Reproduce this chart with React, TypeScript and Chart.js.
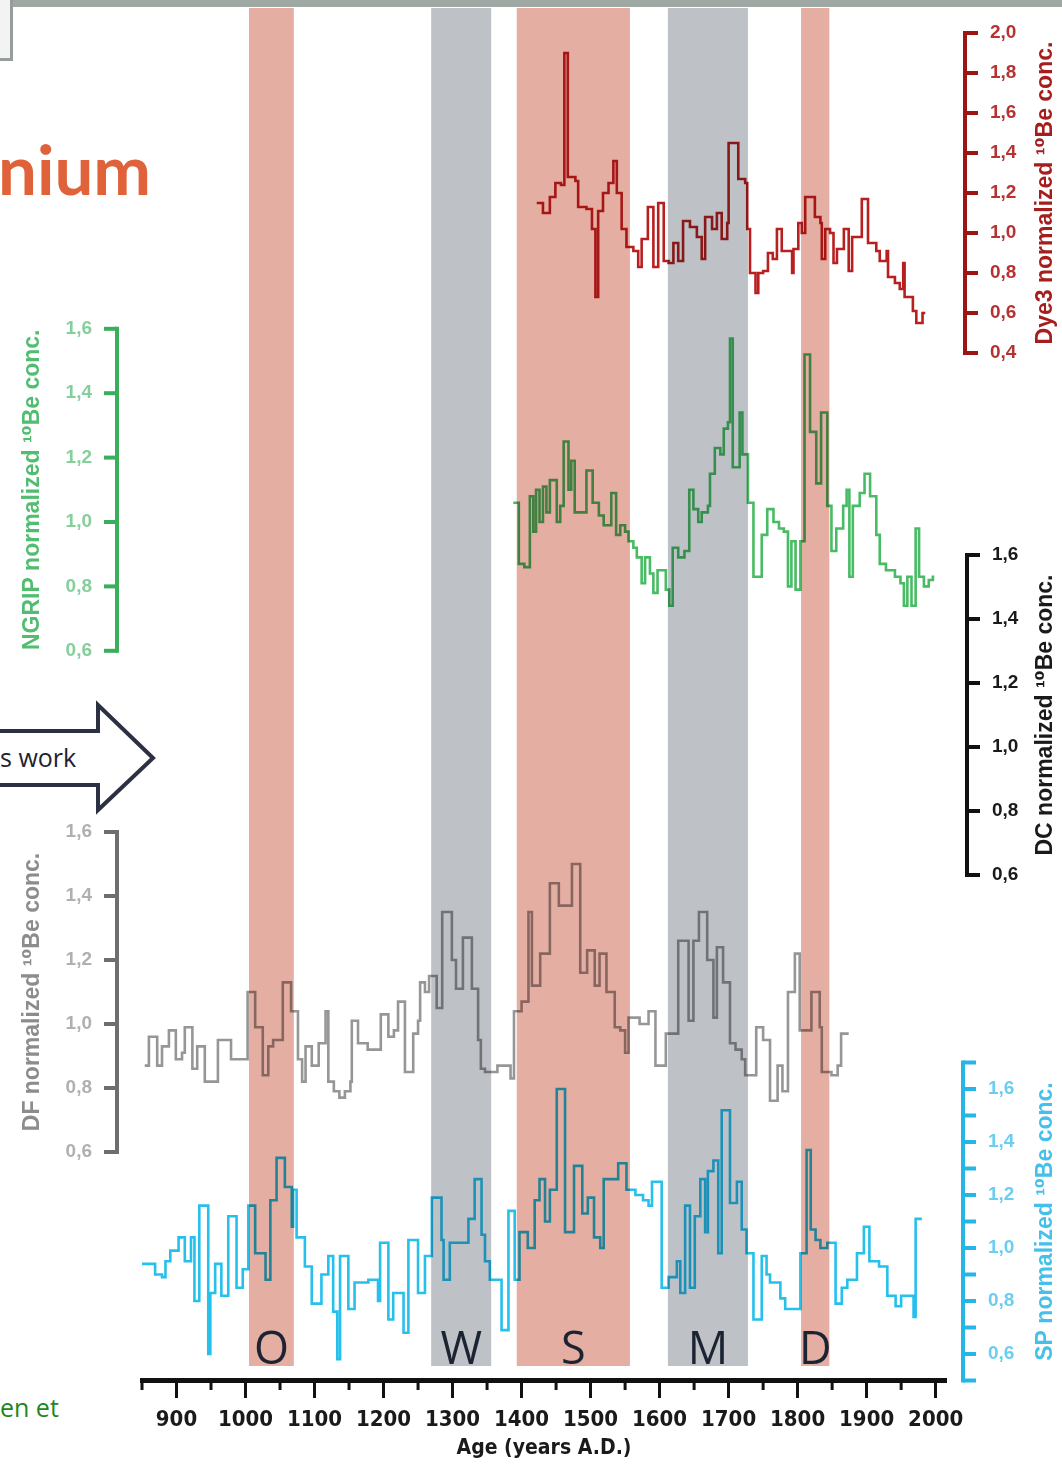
import React, { useEffect, useRef } from 'react';
import { Chart, registerables } from 'chart.js';

Chart.register(...registerables);

// ---------------- data ----------------
const X_TICKS = [900, 1000, 1100, 1200, 1300, 1400, 1500, 1600, 1700, 1800, 1900, 2000];
const X_MINOR_TICKS = [850, 950, 1050, 1150, 1250, 1350, 1450, 1550, 1650, 1750, 1850, 1950];

const BAND_LABELS = ['O', 'W', 'S', 'M', 'D'];
const BAND_FROM = [1005, 1269, 1393, 1612, 1805];
const BAND_TO = [1070, 1356, 1557, 1728, 1846];

const DYE3_YEARS = [
  1422, 1431, 1441, 1449, 1457, 1462, 1467, 1478, 1482, 1494,
  1502, 1507, 1511, 1518, 1526, 1533, 1538, 1545, 1552, 1562,
  1569, 1574, 1583, 1591, 1598, 1606, 1613, 1620, 1627, 1634,
  1644, 1654, 1661, 1666, 1676, 1683, 1690, 1698, 1700, 1714,
  1724, 1727, 1731, 1739, 1743, 1750, 1757, 1764, 1770, 1777,
  1784, 1792, 1794, 1801, 1806, 1811, 1825, 1833, 1835, 1840,
  1847, 1852, 1857, 1867, 1874, 1879, 1893, 1902, 1914, 1919,
  1929, 1931, 1941, 1948, 1953, 1955, 1967, 1972, 1981, 1985,
];
const DYE3_VALUES = [
  1.15, 1.10, 1.18, 1.25, 1.24, 1.90, 1.28, 1.26, 1.13, 1.12,
  1.02, 0.68, 1.11, 1.20, 1.25, 1.36, 1.20, 1.02, 0.93, 0.91,
  0.83, 0.97, 1.13, 0.83, 1.15, 0.86, 0.85, 0.95, 0.86, 1.06,
  1.03, 0.98, 0.87, 1.08, 1.02, 1.10, 0.97, 1.05, 1.45, 1.27,
  1.25, 1.02, 0.80, 0.70, 0.80, 0.81, 0.90, 0.87, 1.02, 0.91,
  0.91, 0.80, 0.92, 1.05, 1.00, 1.18, 1.08, 1.05, 0.87, 1.02,
  1.00, 0.85, 0.92, 1.02, 0.81, 0.98, 1.17, 0.95, 0.91, 0.86,
  0.91, 0.78, 0.75, 0.72, 0.85, 0.68, 0.61, 0.55, 0.60, 0.60,
];

const NGRIP_YEARS = [
  1388, 1396, 1404, 1412, 1417, 1421, 1426, 1431, 1436, 1441,
  1451, 1456, 1461, 1468, 1472, 1477, 1494, 1503, 1512, 1519,
  1530, 1537, 1543, 1550, 1555, 1562, 1567, 1574, 1579, 1586,
  1591, 1597, 1609, 1614, 1619, 1627, 1636, 1643, 1649, 1656,
  1661, 1670, 1673, 1680, 1688, 1693, 1699, 1702, 1706, 1716,
  1720, 1728, 1736, 1748, 1756, 1765, 1773, 1780, 1786, 1791,
  1797, 1804, 1810, 1818, 1827, 1834, 1843, 1849, 1856, 1866,
  1871, 1875, 1880, 1890, 1897, 1905, 1914, 1919, 1928, 1941,
  1949, 1954, 1959, 1965, 1971, 1976, 1983, 1990, 1996, 1998,
];
const NGRIP_VALUES = [
  1.06, 0.87, 0.86, 1.08, 0.97, 1.10, 1.00, 1.11, 1.03, 1.13,
  1.00, 1.05, 1.25, 1.10, 1.19, 1.03, 1.16, 1.06, 1.02, 0.99,
  1.09, 0.96, 0.99, 0.97, 0.94, 0.92, 0.89, 0.81, 0.89, 0.84,
  0.78, 0.85, 0.79, 0.74, 0.92, 0.89, 0.91, 1.10, 1.04, 1.00,
  1.03, 1.05, 1.15, 1.23, 1.21, 1.29, 1.31, 1.57, 1.17, 1.34,
  1.21, 1.06, 0.83, 0.96, 1.04, 1.00, 0.98, 0.97, 0.80, 0.94,
  0.79, 0.94, 1.52, 1.28, 1.12, 1.34, 1.05, 0.91, 0.98, 1.05,
  1.10, 0.83, 1.05, 1.09, 1.15, 1.08, 0.96, 0.87, 0.85, 0.83,
  0.81, 0.74, 0.83, 0.74, 0.98, 0.83, 0.80, 0.82, 0.83, 0.83,
];

const DF_YEARS = [
  854, 860, 872, 879, 889, 899, 908, 912, 923, 930,
  941, 960, 979, 1003, 1014, 1025, 1033, 1040, 1054, 1066,
  1076, 1082, 1087, 1096, 1106, 1116, 1120, 1128, 1136, 1144,
  1152, 1154, 1163, 1177, 1196, 1207, 1215, 1221, 1231, 1243,
  1250, 1253, 1260, 1266, 1277, 1285, 1299, 1305, 1315, 1328,
  1337, 1341, 1347, 1365, 1384, 1389, 1400, 1410, 1415, 1427,
  1441, 1454, 1473, 1485, 1495, 1506, 1513, 1523, 1535, 1543,
  1550, 1555, 1571, 1584, 1594, 1609, 1627, 1642, 1649, 1657,
  1669, 1678, 1683, 1692, 1702, 1710, 1719, 1724, 1740, 1750,
  1760, 1771, 1778, 1786, 1796, 1803, 1820, 1832, 1835, 1849,
  1858, 1863, 1874,
];
const DF_VALUES = [
  0.87, 0.96, 0.87, 0.93, 0.98, 0.89, 0.91, 0.99, 0.86, 0.93,
  0.82, 0.95, 0.89, 1.10, 0.99, 0.84, 0.93, 0.95, 1.13, 1.04,
  0.89, 0.82, 0.93, 0.87, 0.94, 1.04, 0.82, 0.79, 0.77, 0.79,
  0.82, 1.01, 0.94, 0.92, 1.03, 0.96, 0.98, 1.07, 0.85, 0.97,
  1.01, 1.13, 1.10, 1.15, 1.05, 1.35, 1.20, 1.11, 1.27, 1.11,
  0.95, 0.86, 0.85, 0.87, 0.83, 1.04, 1.07, 1.35, 1.12, 1.22,
  1.44, 1.37, 1.50, 1.16, 1.23, 1.12, 1.22, 1.10, 0.99, 0.98,
  0.91, 1.02, 1.00, 1.04, 0.87, 0.97, 1.26, 1.01, 1.26, 1.35,
  1.20, 1.02, 1.24, 1.13, 0.94, 0.92, 0.89, 0.84, 0.99, 0.95,
  0.76, 0.87, 0.79, 1.10, 1.22, 0.98, 1.10, 0.99, 0.85, 0.84,
  0.87, 0.97, 0.97,
];

const SP_YEARS = [
  847, 869, 879, 884, 891, 903, 912, 921, 926, 933,
  946, 949, 956, 965, 975, 987, 996, 1004, 1014, 1029,
  1036, 1045, 1057, 1067, 1069, 1074, 1086, 1096, 1110, 1120,
  1127, 1133, 1137, 1149, 1158, 1178, 1192, 1195, 1207, 1214,
  1229, 1236, 1250, 1260, 1270, 1284, 1287, 1296, 1323, 1332,
  1342, 1347, 1354, 1371, 1381, 1390, 1397, 1409, 1419, 1426,
  1434, 1441, 1451, 1463, 1476, 1488, 1496, 1505, 1514, 1519,
  1540, 1552, 1565, 1576, 1584, 1589, 1603, 1613, 1625, 1630,
  1637, 1644, 1651, 1659, 1666, 1670, 1678, 1685, 1690, 1702,
  1712, 1719, 1726, 1736, 1748, 1755, 1760, 1775, 1782, 1804,
  1813, 1819, 1826, 1833, 1843, 1855, 1864, 1872, 1886, 1896,
  1904, 1918, 1930, 1942, 1950, 1968, 1971, 1980,
];
const SP_VALUES = [
  0.94, 0.90, 0.89, 0.95, 0.99, 1.04, 0.95, 1.04, 0.80, 1.16,
  0.60, 0.83, 0.94, 0.82, 1.12, 0.85, 0.92, 1.16, 0.98, 0.88,
  1.18, 1.34, 1.23, 1.08, 1.22, 1.04, 0.93, 0.79, 0.90, 0.97,
  0.76, 0.58, 0.97, 0.77, 0.87, 0.88, 0.80, 1.02, 0.73, 0.83,
  0.68, 1.03, 0.83, 0.97, 1.19, 1.03, 0.88, 1.02, 1.11, 1.26,
  1.05, 0.95, 0.88, 0.69, 1.14, 0.88, 1.06, 1.00, 1.18, 1.26,
  1.10, 1.22, 1.60, 1.06, 1.31, 1.13, 1.19, 1.04, 1.00, 1.26,
  1.32, 1.22, 1.20, 1.18, 1.16, 1.25, 0.85, 0.89, 0.95, 0.83,
  1.16, 0.85, 1.12, 1.26, 1.06, 1.29, 1.33, 0.98, 1.52, 1.17,
  1.25, 1.07, 0.98, 0.73, 0.97, 0.90, 0.87, 0.81, 0.77, 0.98,
  1.37, 1.07, 1.03, 1.00, 1.02, 0.79, 0.85, 0.88, 0.98, 1.08,
  0.95, 0.93, 0.82, 0.78, 0.82, 0.74, 1.11, 1.11,
];

const DYE3_TICKS = [0.4, 0.6, 0.8, 1.0, 1.2, 1.4, 1.6, 1.8, 2.0];
const NGRIP_TICKS = [0.6, 0.8, 1.0, 1.2, 1.4, 1.6];
const DC_TICKS = [0.6, 0.8, 1.0, 1.2, 1.4, 1.6];
const DF_TICKS = [0.6, 0.8, 1.0, 1.2, 1.4, 1.6];
const SP_TICKS = [0.6, 0.8, 1.0, 1.2, 1.4, 1.6];
const SP_TICK_MARKS = [0.5, 0.6, 0.7, 0.8, 0.9, 1.0, 1.1, 1.2, 1.3, 1.4, 1.5, 1.6, 1.7];

// ---------------- layout / style ----------------
const W = 1062;
const H = 1464;
const PLOT_TOP = 8;
const PLOT_BOTTOM = 1380;
const PLOT_LEFT = 142;
const PLOT_RIGHT = 946;

const yRange = (refValue: number, refPixel: number, pxPerUnit: number) => ({
  min: refValue - (PLOT_BOTTOM - refPixel) / pxPerUnit,
  max: refValue + (refPixel - PLOT_TOP) / pxPerUnit,
});

const RANGE_DYE3 = yRange(1.0, 233, 200);
const RANGE_NGRIP = yRange(1.0, 522, 322);
const RANGE_DC = yRange(1.0, 747, 320);
const RANGE_DF = yRange(1.0, 1024, 320);
const RANGE_SP = yRange(1.0, 1248, 265);

const PINK = 'rgb(229,174,163)';
const GREY = 'rgb(190,194,199)';
const BAND_COLORS = [PINK, GREY, PINK, GREY, PINK];

const AXIS_FONT = '"Liberation Sans", Arial, "DejaVu Sans", sans-serif';
const NARROW_FONT = '"DejaVu Sans Condensed", "Liberation Sans Narrow", "Liberation Sans", Arial, sans-serif';

type Bracket = {
  scale: string; side: number; x: number; from: number; to: number;
  labels: number[]; marks: number[]; line: string; label: string;
  title: string; titleColor: string; titleX: number;
};

const BRACKETS: Bracket[] = [
  { scale: 'yDye3', side: 1, x: 965, from: 0.4, to: 2.0, labels: DYE3_TICKS, marks: DYE3_TICKS,
    line: '#9c1515', label: '#b83232', title: 'Dye3 normalized ¹⁰Be conc.', titleColor: '#a51d1d', titleX: 1046 },
  { scale: 'yNgrip', side: -1, x: 117, from: 0.6, to: 1.6, labels: NGRIP_TICKS, marks: NGRIP_TICKS,
    line: '#3aae5c', label: '#86cf9a', title: 'NGRIP normalized ¹⁰Be conc.', titleColor: '#52bd70', titleX: 33 },
  { scale: 'yDC', side: 1, x: 967, from: 0.6, to: 1.6, labels: DC_TICKS, marks: DC_TICKS,
    line: '#111111', label: '#1a1a1a', title: 'DC normalized ¹⁰Be conc.', titleColor: '#1a1a1a', titleX: 1046 },
  { scale: 'yDF', side: -1, x: 117, from: 0.6, to: 1.6, labels: DF_TICKS, marks: DF_TICKS,
    line: '#6e6e6e', label: '#b0b0b0', title: 'DF normalized ¹⁰Be conc.', titleColor: '#8c8c8c', titleX: 33 },
  { scale: 'ySP', side: 1, x: 963, from: 0.5, to: 1.7, labels: SP_TICKS, marks: SP_TICK_MARKS,
    line: '#25b6e6', label: '#6ccdf0', title: 'SP normalized ¹⁰Be conc.', titleColor: '#45c0ea', titleX: 1046 },
];

const bandPlugin = {
  id: 'bands',
  afterDatasetsDraw(chart: any) {
    const { ctx, chartArea, scales } = chart;
    const xs = scales.x;
    const bottom = chartArea.bottom - 14;
    ctx.save();
    ctx.globalCompositeOperation = 'multiply';
    BAND_LABELS.forEach((_, i) => {
      const x1 = xs.getPixelForValue(BAND_FROM[i]);
      const x2 = xs.getPixelForValue(BAND_TO[i]);
      ctx.fillStyle = BAND_COLORS[i];
      ctx.fillRect(x1, chartArea.top, x2 - x1, bottom - chartArea.top);
    });
    ctx.restore();
    ctx.save();
    ctx.fillStyle = '#1c2434';
    ctx.font = '45px "Open Sans", "Liberation Sans", sans-serif';
    ctx.textAlign = 'center';
    ctx.textBaseline = 'alphabetic';
    BAND_LABELS.forEach((lab, i) => {
      const x1 = xs.getPixelForValue(BAND_FROM[i]);
      const x2 = xs.getPixelForValue(BAND_TO[i]);
      ctx.fillText(lab, (x1 + x2) / 2, bottom - 2);
    });
    ctx.restore();
  },
};

const axesPlugin = {
  id: 'brackets',
  afterDraw(chart: any) {
    const { ctx, scales, chartArea } = chart;
    const xs = scales.x;
    ctx.save();
    ctx.strokeStyle = '#111';
    ctx.lineWidth = 3;
    X_MINOR_TICKS.forEach((v) => {
      const px = xs.getPixelForValue(v);
      ctx.beginPath();
      ctx.moveTo(px, chartArea.bottom);
      ctx.lineTo(px, chartArea.bottom + 10);
      ctx.stroke();
    });
    ctx.restore();

    BRACKETS.forEach((b) => {
      const s = scales[b.scale];
      const yTop = s.getPixelForValue(b.to);
      const yBot = s.getPixelForValue(b.from);
      ctx.save();
      ctx.strokeStyle = b.line;
      ctx.lineWidth = 4;
      ctx.lineCap = 'square';
      ctx.beginPath();
      ctx.moveTo(b.x, yTop);
      ctx.lineTo(b.x, yBot);
      ctx.stroke();
      ctx.lineCap = 'butt';
      b.marks.forEach((v) => {
        const y = s.getPixelForValue(v);
        ctx.beginPath();
        ctx.moveTo(b.x, y);
        ctx.lineTo(b.x + b.side * 13, y);
        ctx.stroke();
      });
      ctx.fillStyle = b.label;
      ctx.font = `bold 19px ${AXIS_FONT}`;
      ctx.textBaseline = 'middle';
      ctx.textAlign = b.side > 0 ? 'left' : 'right';
      b.labels.forEach((v) => {
        const y = s.getPixelForValue(v);
        ctx.fillText(v.toFixed(1).replace('.', ','), b.x + b.side * 25, y);
      });
      ctx.translate(b.titleX, (yTop + yBot) / 2);
      ctx.rotate(-Math.PI / 2);
      ctx.fillStyle = b.titleColor;
      ctx.font = `bold 23px ${AXIS_FONT}`;
      ctx.textAlign = 'center';
      ctx.fillText(b.title, 0, 0);
      ctx.restore();
    });
  },
};

const series = (years: number[], values: number[]) => years.map((x, i) => ({ x, y: values[i] }));

export default function App() {
  const ref = useRef<HTMLCanvasElement | null>(null);

  useEffect(() => {
    if (!ref.current) return;
    const common = { stepped: 'before' as const, pointRadius: 0, borderWidth: 2.6, fill: false, borderJoinStyle: 'miter' as const };
    const chart = new Chart(ref.current, {
      type: 'line',
      data: {
        datasets: [
          { ...common, label: 'Dye3', data: series(DYE3_YEARS, DYE3_VALUES), borderColor: 'rgb(184,32,32)', yAxisID: 'yDye3' },
          { ...common, label: 'NGRIP', data: series(NGRIP_YEARS, NGRIP_VALUES), borderColor: 'rgb(72,188,100)', yAxisID: 'yNgrip' },
          { ...common, label: 'DF', data: series(DF_YEARS, DF_VALUES), borderColor: 'rgb(150,150,150)', yAxisID: 'yDF' },
          { ...common, label: 'SP', data: series(SP_YEARS, SP_VALUES), borderColor: 'rgb(38,192,236)', yAxisID: 'ySP' },
        ],
      },
      options: {
        animation: false,
        responsive: false,
        devicePixelRatio: 1,
        layout: { padding: { left: PLOT_LEFT, right: W - PLOT_RIGHT, top: PLOT_TOP, bottom: 0 } },
        plugins: { legend: { display: false }, tooltip: { enabled: false } },
        scales: {
          x: {
            type: 'linear',
            position: 'bottom',
            min: 850,
            max: 2015,
            afterBuildTicks: (s: any) => { s.ticks = X_TICKS.map((v) => ({ value: v })); },
            afterFit: (s: any) => { s.height = H - PLOT_BOTTOM; },
            grid: { drawOnChartArea: false, drawTicks: true, tickLength: 18, tickWidth: 3, tickColor: '#111' },
            border: { display: true, color: '#111', width: 5 },
            ticks: {
              color: '#1a1a1a', padding: 9, maxRotation: 0, autoSkip: false,
              font: { family: NARROW_FONT, size: 22, weight: 'bold' },
              callback: (v: any) => String(v),
            },
            title: {
              display: true, text: 'Age (years A.D.)', color: '#1a1a1a', padding: 3,
              font: { family: NARROW_FONT, size: 21, weight: 'bold' },
            },
          },
          yDye3: { type: 'linear', display: false, ...RANGE_DYE3 },
          yNgrip: { type: 'linear', display: false, ...RANGE_NGRIP },
          yDC: { type: 'linear', display: false, ...RANGE_DC },
          yDF: { type: 'linear', display: false, ...RANGE_DF },
          ySP: { type: 'linear', display: false, ...RANGE_SP },
        },
      } as any,
      plugins: [bandPlugin, axesPlugin],
    });
    return () => chart.destroy();
  }, []);

  return (
    <div style={{ position: 'absolute', left: 0, top: 0, width: W, height: H, background: '#fff', overflow: 'hidden' }}>
      <div style={{ position: 'absolute', left: 0, top: 0, width: W, height: 7, background: 'rgb(160,168,163)' }} />
      <div style={{ position: 'absolute', left: 0, top: 0, width: 10, height: 58, background: '#f3f3f3', borderRight: '3px solid rgb(150,158,153)', borderBottom: '3px solid rgb(150,158,153)' }} />
      <div style={{ position: 'absolute', left: -2, top: 134, fontFamily: 'Lato, "Open Sans", sans-serif', fontWeight: 700, fontSize: 69, color: 'rgb(224,98,58)', lineHeight: 1 }}>nium</div>
      <svg style={{ position: 'absolute', left: 0, top: 0 }} width={200} height={1464}>
        <polygon points="-10,731 98,731 98,705 153,758 98,810 98,785 -10,785" fill="#fff" stroke="#2b3142" strokeWidth={4} strokeLinejoin="miter" />
      </svg>
      <div style={{ position: 'absolute', left: 0, top: 742, fontFamily: '"Open Sans", sans-serif', fontSize: 25, color: '#1e2230', lineHeight: 1.2 }}>s work</div>
      <div style={{ position: 'absolute', left: 0, top: 1392, fontFamily: '"Open Sans", sans-serif', fontSize: 25, color: 'rgb(30,135,30)', lineHeight: 1.2 }}>en et</div>
      <canvas ref={ref} width={W} height={H} style={{ position: 'absolute', left: 0, top: 0 }} />
    </div>
  );
}
